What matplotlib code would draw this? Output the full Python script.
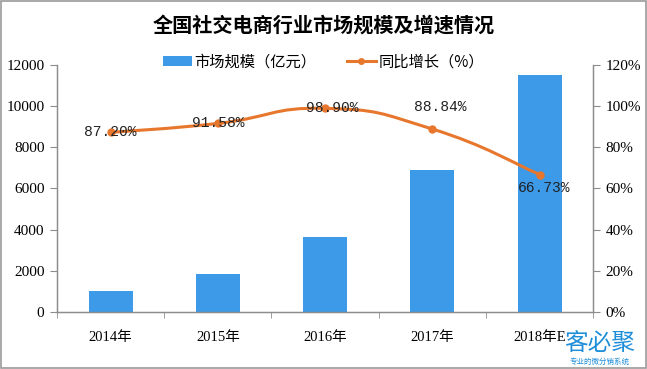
import numpy as np
import matplotlib
matplotlib.use("Agg")
import matplotlib.pyplot as plt
from matplotlib.path import Path
from matplotlib.patches import PathPatch, Rectangle

plt.rcParams['font.family'] = ['Liberation Serif', 'Noto Sans CJK SC', 'DejaVu Sans']

years = ["2014年", "2015年", "2016年", "2017年", "2018年E"]
market = [1000, 1850, 3650, 6900, 11500]      # 亿元
growth = [87.20, 91.58, 98.90, 88.84, 66.73]  # %
growth_labels = ["87.20%", "91.58%", "98.90%", "88.84%", "66.73%"]

bar_color = "#3C9AE8"
line_color = "#E8772E"
grey = "#8c8c8c"
cjk = ['Noto Sans CJK SC', 'DejaVu Sans']


def smooth_path(xs, ys, t=0.25):
    """Bezier path through the points (Excel style smoothed line)."""
    xs = np.asarray(xs, float)
    ys = np.asarray(ys, float)
    verts = [(xs[0], ys[0])]
    codes = [Path.MOVETO]
    n = len(xs)
    for i in range(n - 1):
        p0 = i - 1 if i > 0 else i
        p3 = i + 2 if i + 2 < n else i + 1
        c1 = (xs[i] + (xs[i + 1] - xs[p0]) * t, ys[i] + (ys[i + 1] - ys[p0]) * t)
        c2 = (xs[i + 1] - (xs[p3] - xs[i]) * t, ys[i + 1] - (ys[p3] - ys[i]) * t)
        verts += [c1, c2, (xs[i + 1], ys[i + 1])]
        codes += [Path.CURVE4] * 3
    return Path(verts, codes)


fig = plt.figure(figsize=(6.47, 3.69), dpi=100)
fig.patch.set_facecolor("white")
ax = fig.add_axes([0.088, 0.155, 0.829, 0.669])
ax2 = ax.twinx()

x = np.arange(len(years))
bars = ax.bar(x, market, width=0.41, color=bar_color, zorder=2,
              label="市场规模（亿元）")
ax.set_xlim(-0.5, len(years) - 0.5)
ax.set_ylim(0, 12000)
ax.set_yticks(range(0, 12001, 2000))
ax.set_xticks(x)
ax.set_xticklabels(years, fontsize=10.5)
ax.set_xticks(np.arange(-0.5, len(years), 1.0), minor=True)
ax.tick_params(axis="x", which="major", length=0, pad=14)
ax.tick_params(axis="x", which="minor", length=4, color=grey, direction="out")
ax.tick_params(axis="y", labelsize=11, length=5, color=grey, pad=4)

ax2.set_ylim(0, 120)
ax2.set_yticks(range(0, 121, 20))
ax2.set_yticklabels([f"{v}%" for v in range(0, 121, 20)])
ax2.tick_params(axis="y", labelsize=11, length=5, color=grey, pad=4)

for a in (ax, ax2):
    a.spines["top"].set_visible(False)
    for s in ("left", "right", "bottom"):
        a.spines[s].set_color(grey)
        a.spines[s].set_linewidth(0.9)
    a.set_facecolor("none")

ax2.add_patch(PathPatch(smooth_path(x, growth), facecolor="none",
                        edgecolor=line_color, linewidth=2.2, zorder=3))
ax2.plot(x, growth, linestyle="none", marker="o", markersize=5,
         color=line_color, zorder=4)
line_handle, = ax2.plot([], [], color=line_color, linewidth=2.2, marker="o",
                        markersize=4, label="同比增长（%）")

offsets = [(0, 0), (0, 0), (5, 0), (6, 16), (3, -10)]
for xi, yi, lab, (dx, dy) in zip(x, growth, growth_labels, offsets):
    ax2.annotate(lab, (xi, yi), xytext=(dx, dy), textcoords="offset points",
                 ha="center", va="center", fontsize=10.5, color="#222222",
                 family=['Liberation Mono', 'DejaVu Sans Mono'], zorder=5)

fig.legend(handles=[bars, line_handle], loc="center", ncol=2,
           bbox_to_anchor=(0.5, 0.832), frameon=False,
           handlelength=1.9, columnspacing=2.0, handletextpad=0.15,
           prop={'family': cjk, 'size': 11})

fig.text(0.5, 0.932, "全国社交电商行业市场规模及增速情况", ha="center",
         va="center", fontsize=14.5, fontweight="bold", family=cjk)

# corner logo text
fig.text(0.927, 0.07, "客必聚", ha="center", va="center", fontsize=17,
         color="#1E8ED8", family=cjk)
fig.text(0.927, 0.019, "专业的微分销系统", ha="center", va="center",
         fontsize=5.4, color="#1E8ED8", family=cjk)

fig.patches.append(Rectangle((0.002, 0.003), 0.996, 0.994,
                             transform=fig.transFigure, fill=False,
                             edgecolor="#9a9a9a", linewidth=1.2))

fig.savefig("out.png", dpi=100, facecolor="white")
